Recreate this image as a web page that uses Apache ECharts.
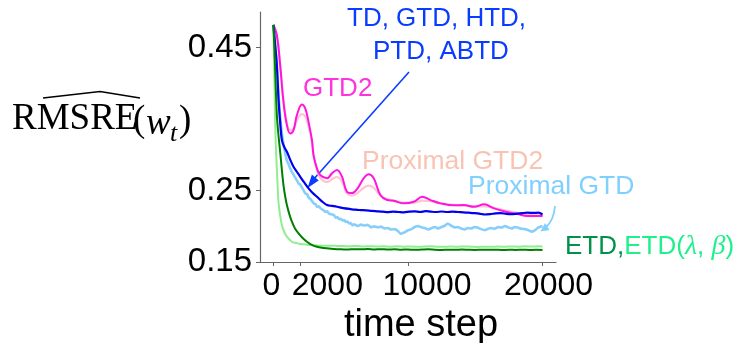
<!DOCTYPE html>
<html>
<head>
<meta charset="utf-8">
<script src="https://cdn.jsdelivr.net/npm/echarts@6/dist/echarts.min.js"></script>
<style>html,body{margin:0;padding:0;background:#fff}#c{width:746px;height:343px}</style>
</head>
<body>
<div id="c"></div>
<script>
// ---- data (time step, RMSRE) ----
var xTicks = [0, 2000, 10000, 20000];
var yTicks = [0.15, 0.25, 0.45];

var gtd2 = [[0,0.482],[253,0.4675],[499,0.4255],[745,0.3742],[998,0.3416],[1244,0.330],[1490,0.3346],[1744,0.3556],[2116,0.3706],[2362,0.365],[2608,0.3462],[2861,0.3206],[2980,0.2997],[3233,0.281],[3479,0.2717],[3978,0.2671],[4351,0.2741],[4723,0.2787],[5096,0.2693],[5468,0.2483],[5841,0.2465],[6213,0.2521],[6707,0.2671],[7080,0.2727],[7452,0.2671],[7951,0.2437],[8450,0.2367],[8943,0.2357],[9688,0.2321],[10433,0.2343],[11059,0.2413],[11678,0.2367],[12423,0.2321],[13414,0.2293],[14159,0.2297],[14904,0.2273],[15649,0.2307],[16394,0.2251],[17266,0.2203],[18138,0.2171],[18883,0.2143],[20000,0.2143]];

var proxGtd2 = [[0,0.482],[253,0.4675],[499,0.4255],[745,0.376],[998,0.345],[1244,0.335],[1490,0.336],[1744,0.348],[2116,0.357],[2362,0.354],[2608,0.34],[2861,0.318],[2980,0.298],[3233,0.279],[3479,0.268],[3978,0.262],[4351,0.266],[4723,0.269],[5096,0.262],[5468,0.246],[5841,0.243],[6213,0.246],[6707,0.254],[7080,0.257],[7452,0.254],[7951,0.243],[8450,0.238],[8943,0.236],[9688,0.233],[10433,0.233],[11059,0.236],[11678,0.235],[12423,0.232],[13414,0.23],[14159,0.229],[14904,0.228],[15649,0.228],[16394,0.226],[17266,0.222],[18138,0.219],[18883,0.216],[20000,0.215]];

var tdGroup = [[0,0.482],[120,0.455],[253,0.4255],[373,0.379],[500,0.345],[626,0.3206],[800,0.311],[998,0.3043],[1250,0.293],[1490,0.2833],[1750,0.276],[1990,0.2693],[2300,0.261],[2608,0.2531],[2900,0.247],[3233,0.2413],[3600,0.235],[3978,0.2297],[4350,0.2285],[4723,0.2273],[5200,0.2255],[5715,0.2241],[6100,0.2232],[6460,0.2227],[6900,0.2222],[7300,0.2215],[7700,0.221],[8100,0.2205],[8500,0.2198],[8900,0.2205],[9300,0.22],[9700,0.2195],[10100,0.2205],[10500,0.221],[10900,0.22],[11300,0.2212],[11700,0.2205],[12100,0.22],[12500,0.2207],[12900,0.22],[13300,0.2205],[13700,0.22],[14100,0.2195],[14500,0.219],[14900,0.2185],[15300,0.2178],[15700,0.2165],[16100,0.217],[16500,0.218],[16900,0.2185],[17300,0.2175],[17700,0.217],[18100,0.2178],[18500,0.2185],[18900,0.219],[19300,0.2187],[19700,0.219],[20000,0.2165]];

var proxGtd = [[0,0.482],[120,0.455],[250,0.425],[373,0.385],[500,0.352],[626,0.33],[750,0.315],[872,0.302],[1000,0.292],[1125,0.287],[1250,0.281],[1371,0.276],[1500,0.272],[1625,0.268],[1750,0.264],[1863,0.2601],[2000,0.258],[2125,0.254],[2250,0.25],[2362,0.2461],[2500,0.245],[2625,0.24],[2750,0.238],[2875,0.235],[2980,0.2321],[3125,0.231],[3250,0.227],[3375,0.228],[3500,0.225],[3625,0.2235],[3750,0.222],[3875,0.22],[4000,0.221],[4125,0.218],[4250,0.217],[4375,0.2165],[4500,0.2157],[4625,0.212],[4750,0.213],[4875,0.21],[5000,0.2105],[5125,0.208],[5250,0.2087],[5375,0.206],[5500,0.2065],[5625,0.204],[5750,0.2045],[5875,0.2015],[6000,0.2027],[6250,0.2003],[6500,0.2025],[6750,0.201],[7000,0.202],[7250,0.1985],[7500,0.2],[7750,0.1985],[8000,0.1995],[8250,0.197],[8500,0.1975],[8750,0.1955],[9000,0.196],[9250,0.1935],[9450,0.1892],[9600,0.1905],[9750,0.1915],[10000,0.1945],[10250,0.196],[10500,0.199],[10750,0.2005],[11000,0.1985],[11250,0.1975],[11500,0.1955],[11750,0.1975],[12000,0.199],[12250,0.197],[12500,0.199],[12750,0.201],[12950,0.204],[13200,0.201],[13450,0.1985],[13700,0.199],[13950,0.197],[14200,0.1955],[14450,0.1975],[14700,0.197],[14950,0.199],[15200,0.198],[15450,0.196],[15700,0.1945],[15950,0.1965],[16200,0.1975],[16450,0.1965],[16700,0.199],[16950,0.198],[17200,0.2005],[17450,0.1985],[17700,0.197],[17950,0.199],[18200,0.198],[18450,0.1965],[18700,0.196],[18950,0.1945],[19200,0.1925],[19450,0.1945],[19700,0.1985],[20000,0.2005]];

var etd = [[0,0.482],[114,0.4255],[253,0.3556],[373,0.3276],[499,0.3043],[620,0.28],[745,0.2577],[870,0.242],[998,0.2297],[1180,0.217],[1371,0.2064],[1600,0.197],[1863,0.1901],[2150,0.184],[2489,0.1784],[2850,0.174],[3233,0.1714],[3600,0.17],[3978,0.1692],[4500,0.1683],[4969,0.1678],[5500,0.1675],[6000,0.168],[6500,0.1678],[7000,0.1682],[7500,0.1676],[8000,0.168],[8500,0.1674],[9000,0.1677],[9500,0.1672],[10000,0.1676],[10500,0.167],[11000,0.1674],[11500,0.1678],[12000,0.1672],[12500,0.1669],[13000,0.1673],[13500,0.167],[14000,0.1675],[14500,0.1671],[15000,0.1668],[15500,0.1672],[16000,0.167],[16500,0.1673],[17000,0.1668],[17500,0.1671],[18000,0.1669],[18500,0.1672],[19000,0.1668],[19500,0.167],[20000,0.1669]];

var etdLB = [[0,0.482],[50,0.43],[110,0.36],[180,0.31],[253,0.281],[373,0.2343],[500,0.215],[626,0.2017],[800,0.192],[998,0.1854],[1371,0.1784],[1700,0.1765],[1990,0.1752],[2400,0.1745],[2735,0.1738],[3300,0.1732],[3978,0.1728],[4600,0.1726],[5195,0.1724],[5700,0.172],[6200,0.1725],[6700,0.1718],[7200,0.1722],[7700,0.1716],[8200,0.1721],[8700,0.1715],[9200,0.1719],[9700,0.1714],[10200,0.1718],[10700,0.1712],[11200,0.1716],[11700,0.172],[12200,0.1714],[12700,0.1712],[13200,0.1716],[13700,0.1713],[14200,0.1718],[14700,0.1714],[15200,0.1711],[15700,0.1715],[16200,0.1712],[16700,0.1717],[17200,0.1713],[17700,0.1718],[18200,0.1714],[18700,0.1719],[19200,0.1716],[19700,0.172],[20000,0.1718]];

// label shift (px) for the x tick labels, as in the reference
var xLabelShift = {0: -2, 2000: 27, 10000: 19, 20000: 6};

var chart = echarts.init(document.getElementById('c'), null, {renderer: 'canvas'});
var SANS = 'Liberation Sans, Arial, Helvetica, sans-serif';
var SERIF = 'Liberation Serif, Times New Roman, serif';

var rich = {};
xTicks.forEach(function (t, i) {
  var d = xLabelShift[t];
  rich['s' + i] = {
    fontFamily: SANS, fontSize: 32, color: '#000',
    padding: d >= 0 ? [0, 0, 0, 2 * d] : [0, -2 * d, 0, 0]
  };
});

function line(name, data, color, width, z, smooth) {
  return {
    name: name, type: 'line', data: data, showSymbol: false, symbol: 'none',
    smooth: smooth, z: z, silent: true, animation: false,
    lineStyle: {color: color, width: width}
  };
}

chart.setOption({
  animation: false,
  grid: {left: 260, right: 190, top: 12, bottom: 81, containLabel: false, outerBoundsMode: 'none'},
  xAxis: {
    type: 'value', min: -1000, max: 21000,
    splitLine: {show: false},
    axisLine: {show: true, onZero: false, lineStyle: {color: '#666', width: 1.2}},
    axisTick: {show: true, customValues: xTicks, length: 4, lineStyle: {color: '#666'}},
    axisLabel: {
      show: true, customValues: xTicks, margin: 8, hideOverlap: false,
      formatter: function (v) { return '{s' + xTicks.indexOf(v) + '|' + v + '}'; },
      rich: rich
    },
    name: 'time step', nameLocation: 'middle', nameGap: 42,
    nameTextStyle: {fontFamily: SANS, fontSize: 38, color: '#000', padding: [0, 0, 0, 26]}
  },
  yAxis: {
    type: 'value', min: 0.15, max: 0.5,
    splitLine: {show: false},
    axisLine: {show: true, onZero: false, lineStyle: {color: '#666', width: 1.2}},
    axisTick: {show: true, customValues: yTicks, length: 4, lineStyle: {color: '#666'}},
    axisLabel: {
      show: true, customValues: yTicks, margin: 8, hideOverlap: false,
      fontFamily: SANS, fontSize: 33, color: '#000',
      formatter: function (v) { return v.toFixed(2); }
    }
  },
  series: [
    line('ETD(λ,β)', etdLB, '#90ee90', 2, 2, 0.3),
    line('Proximal GTD2', proxGtd2, '#ffc4cc', 2.2, 3, 0.4),
    line('Proximal GTD', proxGtd, '#87cefa', 2.6, 4, 0.1),
    line('GTD2', gtd2, '#ff14e0', 2, 5, 0.4),
    line('TD, GTD, HTD, PTD, ABTD', tdGroup, '#0000ee', 2.2, 6, 0.3),
    line('ETD', etd, '#008000', 2, 7, 0.3)
  ],
  graphic: [
    // y-axis name
    {type: 'text', left: null, x: 12, y: 119, style: {text: 'RMSRE', font: '37px ' + SERIF, fill: '#000', verticalAlign: 'middle', textAlign: 'left'}},
    {type: 'text', x: 133, y: 121, style: {text: '(', font: '37px ' + SERIF, fill: '#000', verticalAlign: 'middle', textAlign: 'left'}},
    {type: 'text', x: 146, y: 124, style: {text: 'w', font: 'italic 37px ' + SERIF, fill: '#000', verticalAlign: 'middle', textAlign: 'left'}},
    {type: 'text', x: 170, y: 134, style: {text: 't', font: 'italic 26px ' + SERIF, fill: '#000', verticalAlign: 'middle', textAlign: 'left'}},
    {type: 'text', x: 179, y: 121, style: {text: ')', font: '37px ' + SERIF, fill: '#000', verticalAlign: 'middle', textAlign: 'left'}},
    {type: 'polyline', shape: {points: [[43, 98], [100, 91.5], [140, 98]]}, style: {stroke: '#000', lineWidth: 1.4, fill: null}},
    // annotations
    {type: 'text', x: 347, y: 19, style: {text: 'TD, GTD, HTD,', font: '26px ' + SANS, fill: '#0a3cff', verticalAlign: 'middle'}},
    {type: 'text', x: 373, y: 52, style: {text: 'PTD, ABTD', font: '26px ' + SANS, fill: '#0a3cff', verticalAlign: 'middle'}},
    {type: 'line', shape: {x1: 409, y1: 72, x2: 313, y2: 180}, style: {stroke: '#0a3cff', lineWidth: 1.6}},
    {type: 'polygon', shape: {points: [[307.5, 188], [318.7, 180.5], [311.9, 174.5]]}, style: {fill: '#0a3cff'}},
    {type: 'text', x: 303, y: 89, style: {text: 'GTD2', font: '26px ' + SANS, fill: '#ff33dd', verticalAlign: 'middle'}},
    {type: 'text', x: 362, y: 162, style: {text: 'Proximal GTD2', font: '26.5px ' + SANS, fill: '#f9c3b3', verticalAlign: 'middle'}},
    {type: 'text', x: 468, y: 187, style: {text: 'Proximal GTD', font: '26.5px ' + SANS, fill: '#80d0ff', verticalAlign: 'middle'}},
    {type: 'bezierCurve', shape: {x1: 555, y1: 206, cpx1: 554, cpy1: 220, x2: 546, y2: 227}, style: {stroke: '#80d0ff', lineWidth: 1.8, fill: null}},
    {type: 'polygon', shape: {points: [[540.5, 231.5], [549.5, 230], [545, 223]]}, style: {fill: '#80d0ff'}},
    {type: 'text', x: 565, y: 247, style: {
      text: '{a|ETD,}{b|ETD(}{c|λ}{b|, }{c|β}{b|)}', verticalAlign: 'middle',
      rich: {
        a: {fontFamily: SANS, fontSize: 26, fill: '#00924a', color: '#00924a'},
        b: {fontFamily: SANS, fontSize: 26, fill: '#1ef08c', color: '#1ef08c'},
        c: {fontFamily: SERIF, fontStyle: 'italic', fontSize: 28, fill: '#1ef08c', color: '#1ef08c'}
      }
    }}
  ]
});
</script>
</body>
</html>
